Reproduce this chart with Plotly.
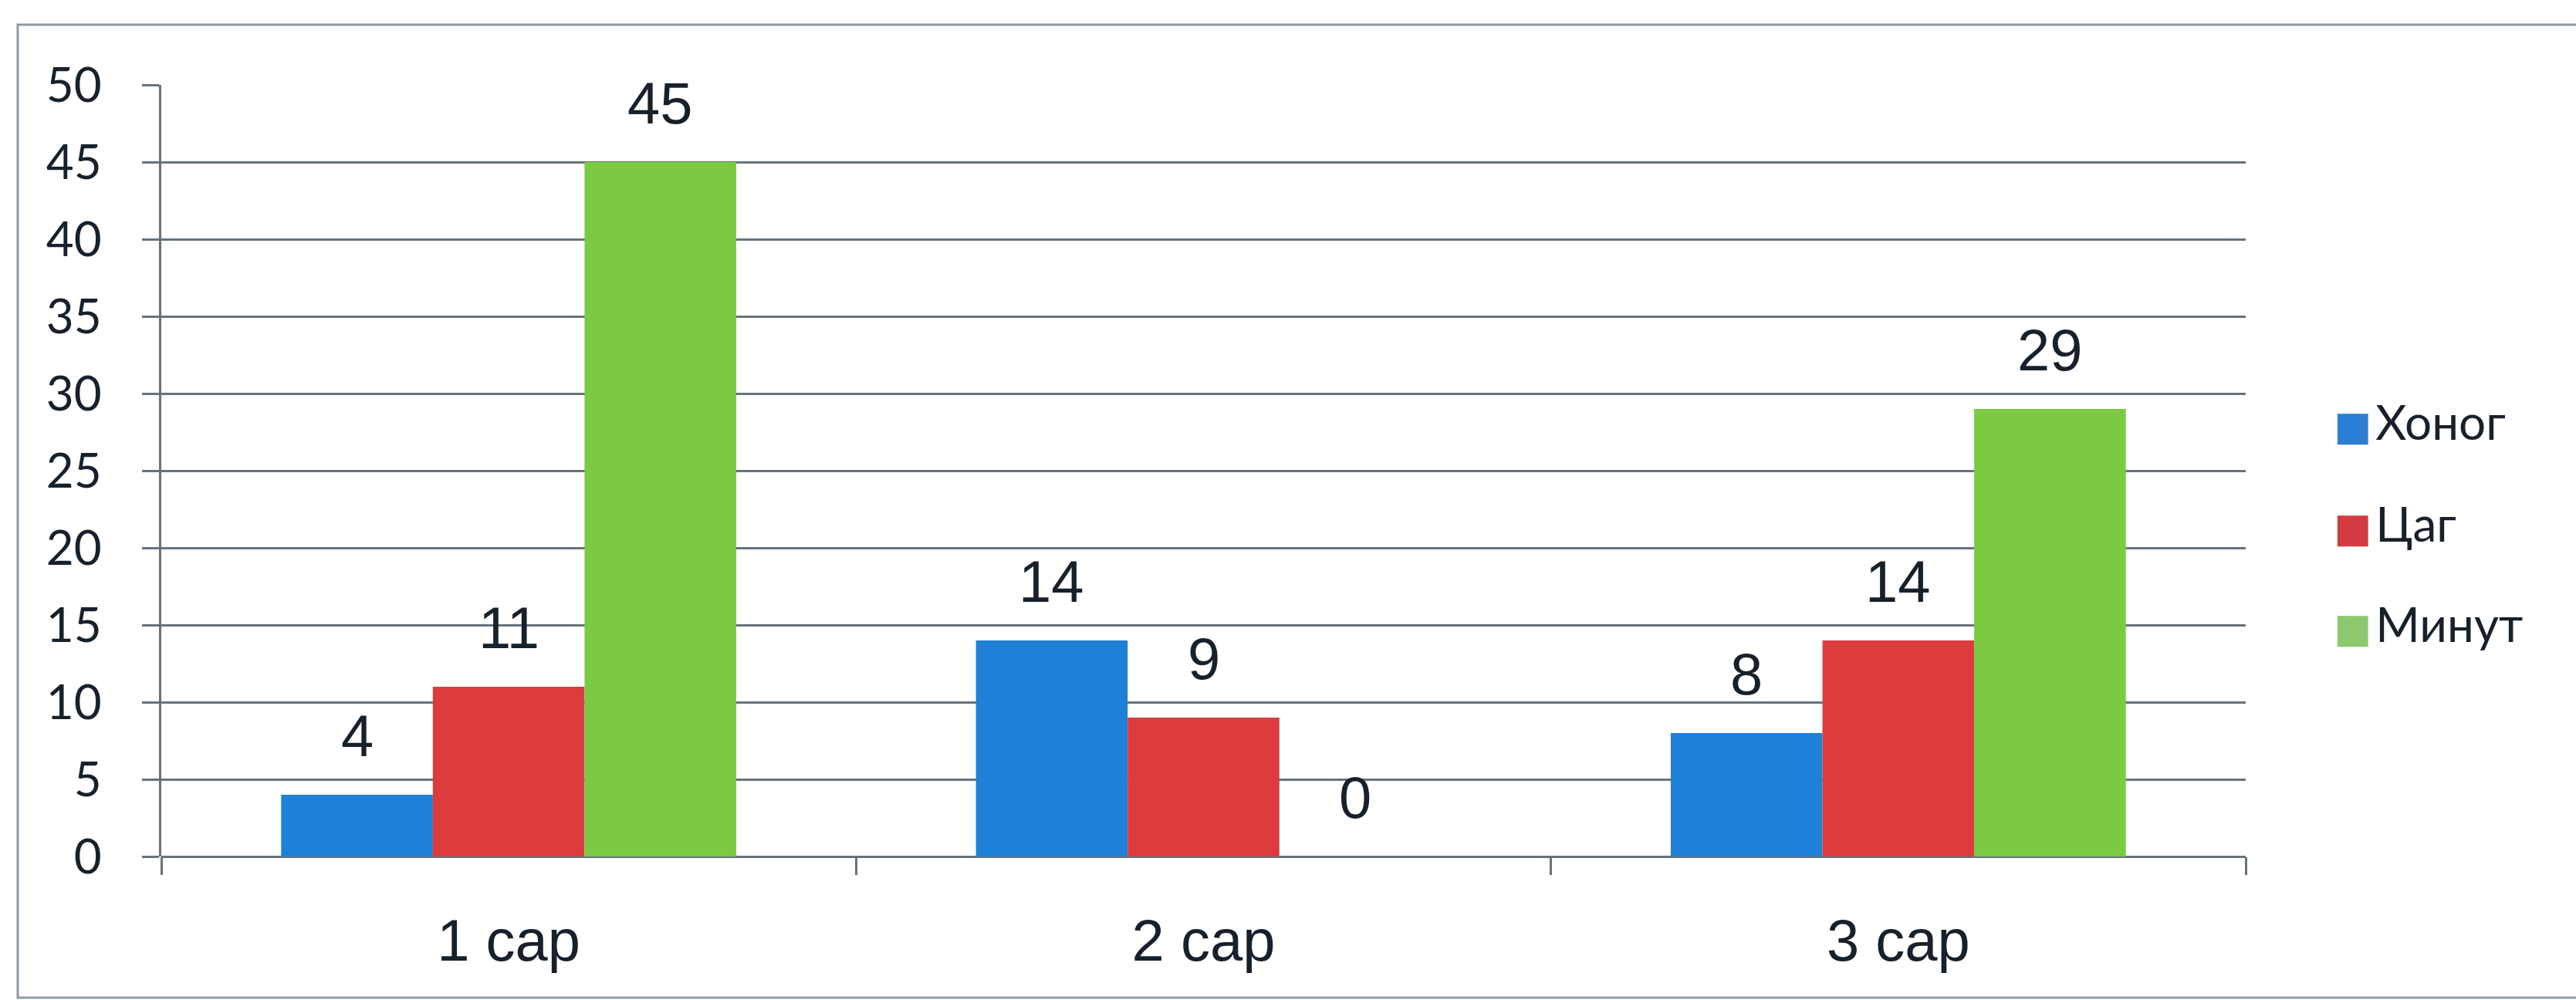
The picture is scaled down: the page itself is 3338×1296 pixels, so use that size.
import plotly.graph_objects as go

categories = ["1 сар", "2 сар", "3 сар"]
series_names = ["Хоног", "Цаг", "Минут"]
khonog = [4, 14, 8]
tsag = [11, 9, 14]
minut = [45, 0, 29]
colors = ["#1f80d8", "#dc3c3e", "#7cc943"]
legend_colors = ["#2a7fd4", "#d23c40", "#8cc870"]
y_ticks = [0, 5, 10, 15, 20, 25, 30, 35, 40, 45, 50]

series_values = [khonog, tsag, minut]

W, H = 3338, 1296
L, R, T, B = 209, 428, 110, 186
pw, ph = W - L - R, H - T - B

text_col = "#17212b"
grid_col = "#66737a"

fig = go.Figure()
for i, (name, vals) in enumerate(zip(series_names, series_values)):
    fig.add_trace(go.Bar(
        x=categories, y=vals, name=name,
        marker=dict(color=colors[i], line=dict(width=0)),
        showlegend=False,
    ))

# data labels above each bar
bar_w = pw / len(categories) * (1 - 0.345) / 3
for i, vals in enumerate(series_values):
    for c, v in zip(categories, vals):
        fig.add_annotation(
            x=c, y=v, text=str(v), showarrow=False,
            xshift=(i - 1) * bar_w, yshift=32, yanchor="bottom",
            font=dict(family="Liberation Sans, Arial", size=76, color=text_col),
        )

def px_x(p):
    return (p - L) / pw

def px_y(p):
    return (H - B - p) / ph

# legend (large square keys as in the original)
legend_rows = [546, 678, 808]
for name, col, ry in zip(series_names, legend_colors, legend_rows):
    fig.add_annotation(
        xref="paper", yref="paper", x=px_x(3022), y=px_y(ry),
        xanchor="left", yanchor="middle", showarrow=False, align="left",
        text=(f'<span style="color:{col};font-family:DejaVu Sans;font-size:52px">■</span>'
              f'<span style="font-size:20px"> </span>{name}'),
        font=dict(family="Lato", size=62, color=text_col),
    )

# outer chart border
fig.add_shape(type="rect", xref="paper", yref="paper",
              x0=px_x(23), x1=px_x(3360), y0=px_y(1293), y1=px_y(32),
              line=dict(color="#8d9ba4", width=3), layer="below")

fig.update_layout(
    width=W, height=H,
    margin=dict(l=L, r=R, t=T, b=B),
    paper_bgcolor="white", plot_bgcolor="white",
    barmode="group", bargap=0.345, bargroupgap=0,
    showlegend=False,
    xaxis=dict(
        type="category",
        tickson="boundaries", ticks="outside", ticklen=23, tickwidth=3,
        tickcolor=grid_col,
        showline=False, showgrid=False,
        tickfont=dict(family="Liberation Sans, Arial", size=76, color=text_col),
        ticklabelstandoff=58,
    ),
    yaxis=dict(
        range=[0, 50], tickvals=y_ticks,
        ticks="outside", ticklen=22, tickwidth=3, tickcolor=grid_col,
        showgrid=True, gridcolor=grid_col, gridwidth=3,
        showline=True, linecolor=grid_col, linewidth=3,
        zeroline=True, zerolinecolor=grid_col, zerolinewidth=3,
        tickfont=dict(family="Lato", size=62, color=text_col),
        ticklabelstandoff=40,
    ),
)

fig.write_html("out.html")
